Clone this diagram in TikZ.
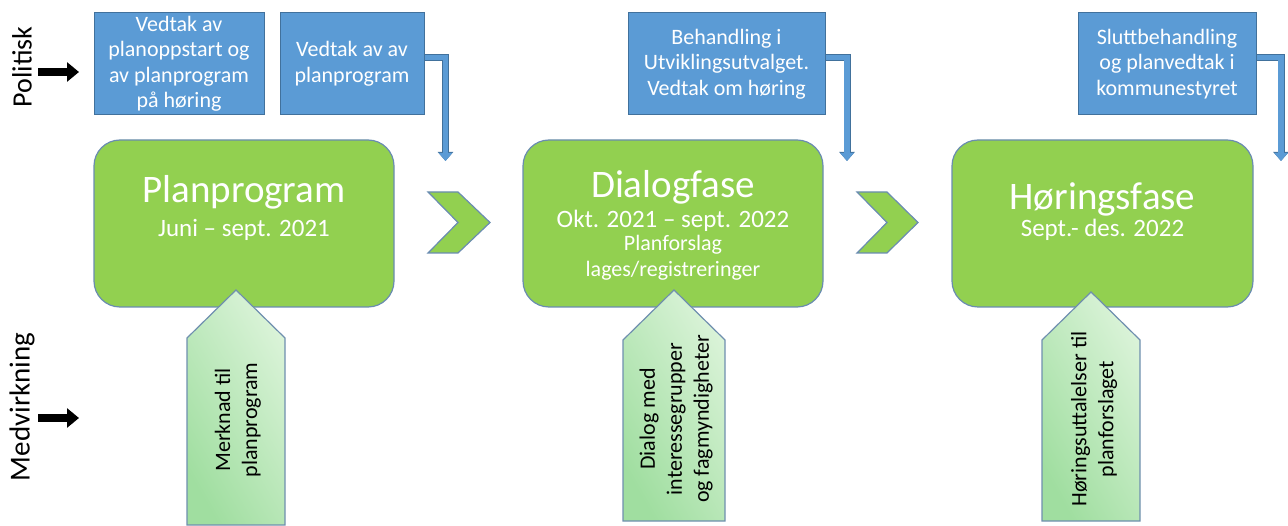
\documentclass[tikz,border=0pt]{standalone}
\usepackage{fontspec}
\setmainfont{Carlito}
\usetikzlibrary{arrows.meta,calc}
\definecolor{bfill}{HTML}{5B9BD5}
\definecolor{bline}{HTML}{41719C}
\definecolor{gfill}{HTML}{92D050}
\definecolor{gline}{HTML}{6A8CB0}
\definecolor{pdark}{HTML}{A0DEA0}
\definecolor{plight}{HTML}{DAF3D8}
\definecolor{pline}{HTML}{6F8FAF}
\begin{document}
\begin{tikzpicture}[x=1pt,y=-1pt,
  bluebox/.style={draw=bline, line width=1pt, fill=bfill, text=white, align=center,
    inner sep=0pt, minimum height=102pt, font=\fontsize{22}{25.5}\selectfont},
  greenbox/.style={draw=gline, line width=1.2pt, fill=gfill, rounded corners=26pt,
    minimum width=300pt, minimum height=167pt},
  gtitle/.style={anchor=base, text=white, inner sep=0pt, font=\fontsize{39}{44}\selectfont},
  gsub/.style={anchor=base, text=white, inner sep=0pt, font=\fontsize{25}{30}\selectfont},
  gsmall/.style={anchor=base, text=white, inner sep=0pt, font=\fontsize{22}{26}\selectfont},
  chevron/.style={draw=gline, line width=1.2pt, fill=gfill},
  pent/.style={draw=pline, line width=1.2pt, left color=pdark, right color=plight, shading angle=120},
  ptext/.style={rotate=90, align=center, text=black, inner sep=0pt, font=\fontsize{22}{27}\selectfont},
  sidelabel/.style={rotate=90, text=black, inner sep=0pt},
  blackarrow/.style={draw=black, line width=8pt, -{Triangle[width=19pt,length=12pt]}},
  bconn/.style={draw=bfill, line width=5.5pt, -{Triangle[width=13pt,length=8pt]},
    preaction={draw=bline, line width=7pt, -{Triangle[width=15pt,length=9pt]}}}
]
\useasboundingbox (0,0) rectangle (1288,526);

% side labels
\node[sidelabel, font=\fontsize{28}{34}\selectfont] (pol) at (22,67) {Politisk};
\node[sidelabel, font=\fontsize{29}{34}\selectfont] (med) at (22,407) {Medvirkning};
\coordinate (pa1) at (38,72);
\coordinate (pa2) at (79,72);
\coordinate (ma1) at (38,418);
\coordinate (ma2) at (79,418);
\draw[blackarrow] (pa1) -- (pa2);
\draw[blackarrow] (ma1) -- (ma2);

% blue boxes
\node[bluebox, minimum width=170pt] (b1) at (179,64) {Vedtak av\\planoppstart og\\av planprogram\\på høring};
\node[bluebox, minimum width=144pt] (b2) at (352,64) {Vedtak av av\\planprogram};
\node[bluebox, minimum width=197pt] (b3) at (726.5,64) {Behandling i\\Utviklingsutvalget.\\Vedtak om høring};
\node[bluebox, minimum width=178pt] (b4) at (1167,64) {Sluttbehandling\\og planvedtak i\\kommunestyret};

% connectors
\coordinate (e2) at (445.5,161);
\coordinate (e3) at (847,161);
\coordinate (e4) at (1281,161);
\draw[bconn] ([yshift=6.5pt]b2.east) -| (e2);
\draw[bconn] ([yshift=6.5pt]b3.east) -| (e3);
\draw[bconn] ([yshift=6.5pt]b4.east) -| (e4);

% green boxes
\node[greenbox] (g1) at (244,223.5) {};
\node[greenbox] (g2) at (673,223.5) {};
\node[greenbox, minimum width=301pt] (g3) at (1102.5,223.5) {};

\node[gtitle] (t1) at (244,203) {Planprogram};
\node[gsub] (s1) at (244,237) {Juni – sept. 2021};
\node[gtitle] (t2) at (673,198) {Dialogfase};
\node[gsub] (s2) at (673,228) {Okt. 2021 – sept. 2022};
\node[gsmall] (s2b) at (673,251) {Planforslag};
\node[gsmall] (s2c) at (673,277) {lages/registreringer};
\node[gtitle] (t3) at (1102.5,210) {Høringsfase};
\node[gsub] (s3) at (1102.5,237) {Sept.- des. 2022};

% chevrons
\path[chevron] (428,192) -- (458,192) -- (490,222.5) -- (458,253) -- (428,253) -- (458,222.5) -- cycle;
\path[chevron] (857,192) -- (887,192) -- (918,222.5) -- (887,253) -- (857,253) -- (887,222.5) -- cycle;

% pentagons
\path[pent] (187,525) -- (187,338) -- (236,290) -- (285,338) -- (285,525) -- cycle;
\path[pent] (623,521) -- (623,340) -- (674,290) -- (725,340) -- (725,521) -- cycle;
\path[pent] (1042,521) -- (1042,340) -- (1091,292) -- (1140,340) -- (1140,521) -- cycle;

\node[ptext] (p1) at (238,420) {Merknad til\\planprogram};
\node[ptext] (p2) at (676,419) {Dialog med\\interessegrupper\\og fagmyndigheter};
\node[ptext] (p3) at (1094,419) {Høringsuttalelser til\\planforslaget};
\end{tikzpicture}
\end{document}
